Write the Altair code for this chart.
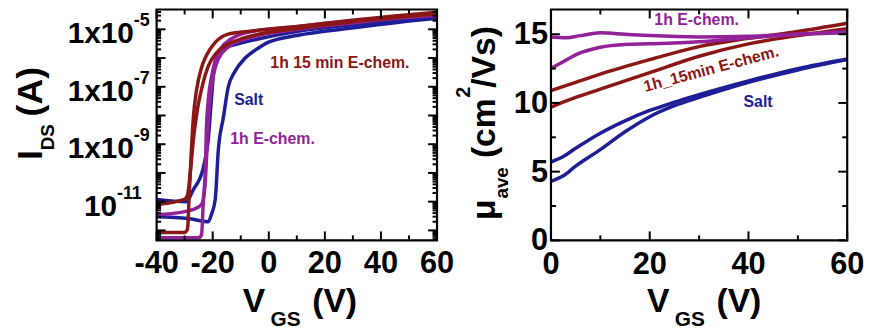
import altair as alt
import pandas as pd

# ---------------- data: left panel (I_DS vs V_GS, two sweeps per sample) ----------------
SALT_A_V = [-40, -28.7, -21.6, -20.5, -19.1, -18.0, -16.2, -14.5, -12.0, -8.4, -3.8, -0.3, 10.4, 28.1, 45.8, 60]
SALT_A_I = [3.0e-12, 2.6e-12, 2.0e-12, 3.5e-12, 1.2e-11, 6.2e-10, 8.5e-9, 9.3e-8, 3.5e-7, 1.0e-6, 2.2e-6,
            3.5e-6, 6.2e-6, 1.07e-5, 1.74e-5, 2.4e-5]
SALT_B_V = [-40, -29.4, -27, -23.3, -21.6, -20.5, -19.4, -17.3, -12.7, -3.8, 10.4, 28.1, 45.8, 60]
SALT_B_I = [1.2e-11, 1.0e-11, 2.5e-11, 1.6e-10, 1.4e-9, 3.3e-8, 5.2e-7, 2.0e-6, 2.8e-6, 4.6e-6, 8.5e-6,
            1.38e-5, 2.0e-5, 2.6e-5]
PURPLE_A_V = [-40, -30, -25.1, -24.0, -23.3, -22.6, -22.3, -21.6, -20.5, -19.1, -17.0, -13.4, -7.4, 10.4, 28.1, 45.8, 60]
PURPLE_A_I = [5.7e-13, 5.5e-13, 5.5e-13, 7e-13, 1.2e-11, 1.6e-10, 2.4e-9, 3.3e-8, 2.0e-7, 7.9e-7, 2.2e-6,
              4.6e-6, 7.9e-6, 1.26e-5, 1.9e-5, 2.6e-5, 3.3e-5]
PURPLE_B_V = [-40, -30, -25.1, -23.7, -22.6, -21.9, -21.2, -20.1, -18.0, -14.5, -7.4, 10.4, 28.1, 45.8, 60]
PURPLE_B_I = [3.5e-12, 4.5e-12, 6.5e-12, 9e-12, 5.8e-11, 1.4e-9, 2.2e-8, 1.6e-7, 9.3e-7, 2.4e-6, 4.9e-6,
              1.0e-5, 1.6e-5, 2.4e-5, 3.0e-5]
RED_A_V = [-40, -30.1, -29.0, -28.3, -27.6, -26.9, -25.8, -24.0, -22.3, -19.1, -14.5, -7.4, 10.4, 28.1, 45.8, 60]
RED_A_I = [8.5e-13, 8.5e-13, 1.1e-12, 2.6e-11, 6.2e-10, 8.5e-9, 7.2e-8, 4.6e-7, 1.2e-6, 3.5e-6, 6.8e-6,
           8.5e-6, 1.26e-5, 2.0e-5, 3.0e-5, 3.9e-5]
RED_B_V = [-40, -30.1, -29.0, -27.9, -26.9, -25.5, -23.7, -21.6, -18.7, -15.2, -9.1, 10.4, 28.1, 45.8, 60]
RED_B_I = [8e-12, 1.2e-11, 1.7e-11, 1.26e-10, 1.4e-9, 1.5e-8, 1.07e-7, 5.2e-7, 1.5e-6, 2.8e-6, 4.9e-6,
           1.07e-5, 1.74e-5, 2.6e-5, 3.5e-5]

# ---------------- data: right panel (mu_ave vs V_GS) ----------------
SALT_UP_V = [0, 2.5, 5, 10, 15, 20, 25, 30, 40, 50, 60]
SALT_UP_MU = [5.7, 6.1, 6.7, 7.8, 8.7, 9.45, 10.05, 10.6, 11.6, 12.5, 13.2]
SALT_DN_V = [0, 2.5, 5, 10, 15, 20, 25, 30, 40, 50, 60]
SALT_DN_MU = [4.3, 4.7, 5.4, 6.6, 7.9, 9.0, 9.8, 10.4, 11.5, 12.4, 13.15]
PURPLE_UP_V = [0, 3, 6, 10, 15, 20, 30, 40, 50, 60]
PURPLE_UP_MU = [14.8, 14.75, 14.9, 15.1, 15.0, 14.9, 14.8, 14.85, 15.0, 15.1]
PURPLE_DN_V = [0, 2, 5, 10, 15, 20, 30, 40, 50, 60]
PURPLE_DN_MU = [12.5, 12.9, 13.5, 14.05, 14.25, 14.3, 14.45, 14.75, 15.0, 15.2]
RED_UP_V = [0, 5, 10, 20, 30, 40, 50, 60]
RED_UP_MU = [10.9, 11.5, 12.1, 13.15, 14.1, 14.7, 15.2, 15.8]
RED_DN_V = [0, 5, 10, 20, 30, 40, 50, 60]
RED_DN_MU = [9.7, 10.4, 11.0, 12.2, 13.4, 14.3, 14.9, 15.4]

SERIES = ["Salt", "1h E-chem.", "1h 15 min E-chem."]
COLORS = ["#1e1e96", "#922299", "#8b1616"]

# tick labels
LX_TICKS = [-40, -20, 0, 20, 40, 60]
LX_MINOR = [-30, -10, 10, 30, 50]
LY_BASE = ["1x10", "1x10", "1x10"]
LY_EXP = ["-5", "-7", "-9"]
LY_VALS = [1e-5, 1e-7, 1e-9]
LY_BASE2 = ["10"]
LY_EXP2 = ["-11"]
LY_VALS2 = [1e-11]
RX_TICKS = [0, 20, 40, 60]
RX_MINOR = [10, 30, 50]
RY_TICKS = [0, 5, 10, 15]
RY_MINOR = [2.5, 7.5, 12.5]

FONT = "Liberation Sans, Arial, Helvetica, sans-serif"
BLACK = "#000000"


def frame(rows):
    return pd.DataFrame(rows, columns=["V", "val", "series", "curve"])


left_rows = []
for name, vs, ys, s in [("sa", SALT_A_V, SALT_A_I, 0), ("sb", SALT_B_V, SALT_B_I, 0),
                        ("pa", PURPLE_A_V, PURPLE_A_I, 1), ("pb", PURPLE_B_V, PURPLE_B_I, 1),
                        ("ra", RED_A_V, RED_A_I, 2), ("rb", RED_B_V, RED_B_I, 2)]:
    for v, y in zip(vs, ys):
        left_rows.append((v, y, SERIES[s], name))
left_df = frame(left_rows)

right_rows = []
for name, vs, ys, s in [("su", SALT_UP_V, SALT_UP_MU, 0), ("sd", SALT_DN_V, SALT_DN_MU, 0),
                        ("ru", RED_UP_V, RED_UP_MU, 2), ("rd", RED_DN_V, RED_DN_MU, 2),
                        ("pu", PURPLE_UP_V, PURPLE_UP_MU, 1), ("pd", PURPLE_DN_V, PURPLE_DN_MU, 1)]:
    for v, y in zip(vs, ys):
        right_rows.append((v, y, SERIES[s], name))
right_df = frame(right_rows)

color = alt.Color("series:N", scale=alt.Scale(domain=SERIES, range=COLORS), legend=None)

# ---- scales (pixel ranges place the two panels side by side)
LX0, LX1 = 150, 433
RX0, RX1 = 548, 847
Y0, Y1 = 233, 0
LOG_DOM = [4.5e-13, 4.9e-5]
MU_DOM = [0, 16.8]
xs_l = alt.Scale(domain=[-40, 60], range=[LX0, LX1], nice=False, zero=False)
ys_l = alt.Scale(type="log", domain=LOG_DOM, range=[Y0, Y1], nice=False)
xs_r = alt.Scale(domain=[0, 60], range=[RX0, RX1], nice=False, zero=False)
ys_r = alt.Scale(domain=MU_DOM, range=[Y0, Y1], nice=False, zero=False)


def text(t, x, y, size, col=BLACK, align="center", baseline="alphabetic", angle=0):
    return alt.Chart(pd.DataFrame({"t": [t]})).mark_text(
        font=FONT, fontSize=size, fontWeight="bold", color=col,
        align=align, baseline=baseline, angle=angle
    ).encode(x=alt.value(x), y=alt.value(y), text="t:N")


def xticks(vals, xs, length):
    d = pd.DataFrame({"v": vals})
    out = []
    for yv in (Y0 - length / 2, Y1 + length / 2):
        out.append(alt.Chart(d).mark_tick(color=BLACK, thickness=2, size=length, orient="vertical",
                                          opacity=1).encode(
            x=alt.X("v:Q", scale=xs, axis=None), y=alt.value(yv)))
    return out


def yticks(vals, ys, x0, x1, length):
    d = pd.DataFrame({"v": vals})
    out = []
    for xv in (x0 + length / 2, x1 - length / 2):
        out.append(alt.Chart(d).mark_tick(color=BLACK, thickness=2, size=length, orient="horizontal",
                                          opacity=1).encode(
            y=alt.Y("v:Q", scale=ys, axis=None), x=alt.value(xv)))
    return out


def box(xs, ys, xd, yd):
    return alt.Chart(pd.DataFrame({"a": [0]})).mark_rect(
        fill=None, stroke=BLACK, strokeWidth=2.2).encode(
        x=alt.X(datum=xd[0], scale=xs, axis=None), x2=alt.datum(xd[1]),
        y=alt.Y(datum=yd[0], scale=ys, axis=None), y2=alt.datum(yd[1]))


# ---------------- left panel ----------------
l_lines = alt.Chart(left_df).mark_line(strokeWidth=3.5, interpolate="monotone").encode(
    x=alt.X("V:Q", scale=xs_l, axis=None),
    y=alt.Y("val:Q", scale=ys_l, axis=None),
    color=color, detail="curve:N")

maj_dec = [10.0 ** e for e in range(-12, -4)]
min_dec = [m * 10.0 ** e for e in range(-13, -4) for m in range(2, 10)
           if LOG_DOM[0] <= m * 10.0 ** e <= LOG_DOM[1]]

lx_lab = alt.Chart(pd.DataFrame({"v": LX_TICKS, "t": [str(v) for v in LX_TICKS]})).mark_text(
    font=FONT, fontSize=31, fontWeight="bold", baseline="alphabetic", align="center", color=BLACK
).encode(x=alt.X("v:Q", scale=xs_l, axis=None), y=alt.value(266), text="t:N")

ly_df = pd.DataFrame({"v": LY_VALS, "b": LY_BASE, "e": LY_EXP})
ly_base = alt.Chart(ly_df).mark_text(font=FONT, fontSize=30, fontWeight="bold", align="right",
                                     baseline="alphabetic", dy=14, color=BLACK).encode(
    y=alt.Y("v:Q", scale=ys_l, axis=None), x=alt.value(127), text="b:N")
ly_exp = alt.Chart(ly_df).mark_text(font=FONT, fontSize=18, fontWeight="bold", align="left",
                                    baseline="alphabetic", dy=-3, color=BLACK).encode(
    y=alt.Y("v:Q", scale=ys_l, axis=None), x=alt.value(127), text="e:N")
ly_df2 = pd.DataFrame({"v": LY_VALS2, "b": LY_BASE2, "e": LY_EXP2})
ly_base2 = alt.Chart(ly_df2).mark_text(font=FONT, fontSize=30, fontWeight="bold", align="right",
                                       baseline="alphabetic", dy=14, color=BLACK).encode(
    y=alt.Y("v:Q", scale=ys_l, axis=None), x=alt.value(110), text="b:N")
ly_exp2 = alt.Chart(ly_df2).mark_text(font=FONT, fontSize=18, fontWeight="bold", align="left",
                                      baseline="alphabetic", dy=-3, color=BLACK).encode(
    y=alt.Y("v:Q", scale=ys_l, axis=None), x=alt.value(110), text="e:N")

layers = [l_lines, box(xs_l, ys_l, [-40, 60], LOG_DOM)]
layers += xticks(LX_TICKS, xs_l, 9)
layers += xticks(LX_MINOR, xs_l, 5)
layers += yticks(maj_dec, ys_l, LX0, LX1, 9)
layers += yticks(min_dec, ys_l, LX0, LX1, 4.5)
layers += [lx_lab, ly_base, ly_exp, ly_base2, ly_exp2]
layers += [
    text("1h 15 min E-chem.", 335, 59, 16, COLORS[2]),
    text("Salt", 243, 96, 16, COLORS[0]),
    text("1h E-chem.", 267, 136, 16, COLORS[1]),
    # y title  I_DS (A)
    text("I", 34, 147, 36, angle=270),
    text("DS", 46, 129, 19, angle=270),
    text("(A)", 34, 83, 36, angle=270),
    # x title  V_GS (V)
    text("V", 237, 305, 34, align="left"),
    text("GS", 265, 319, 21, align="left"),
    text("(V)", 307, 305, 34, align="left"),
]

# ---------------- right panel ----------------
r_lines = alt.Chart(right_df).mark_line(strokeWidth=3.5, interpolate="monotone").encode(
    x=alt.X("V:Q", scale=xs_r, axis=None),
    y=alt.Y("val:Q", scale=ys_r, axis=None),
    color=color, detail="curve:N")

rx_lab = alt.Chart(pd.DataFrame({"v": RX_TICKS, "t": [str(v) for v in RX_TICKS]})).mark_text(
    font=FONT, fontSize=31, fontWeight="bold", baseline="alphabetic", align="center", color=BLACK
).encode(x=alt.X("v:Q", scale=xs_r, axis=None), y=alt.value(267), text="t:N")
ry_lab = alt.Chart(pd.DataFrame({"v": RY_TICKS, "t": [str(v) for v in RY_TICKS]})).mark_text(
    font=FONT, fontSize=31, fontWeight="bold", baseline="alphabetic", align="right", dy=10, color=BLACK
).encode(y=alt.Y("v:Q", scale=ys_r, axis=None), x=alt.value(545), text="t:N")

layers += [r_lines, box(xs_r, ys_r, [0, 60], MU_DOM)]
layers += xticks(RX_TICKS, xs_r, 9)
layers += xticks(RX_MINOR, xs_r, 5)
layers += yticks(RY_TICKS, ys_r, RX0, RX1, 9)
layers += yticks(RY_MINOR, ys_r, RX0, RX1, 5)
layers += [rx_lab, ry_lab]
layers += [
    text("1h E-chem.", 695, 16, 16, COLORS[1]),
    text("1h_15min E-chem.", 711, 65, 16, COLORS[2], angle=345),
    text("Salt", 757, 98, 16, COLORS[0]),
    # y title  mu_ave (cm^2/Vs)
    text("\u03bc", 492, 202, 34, angle=270),
    text("ave", 505, 175, 19, angle=270),
    text("(cm", 492, 150, 34, align="left", angle=270),
    text("2", 466, 89, 20, align="left", angle=270),
    text("/Vs)", 492, 79, 34, align="left", angle=270),
    # x title
    text("V", 645, 305, 34, align="left"),
    text("GS", 673, 319, 21, align="left"),
    text("(V)", 715, 305, 34, align="left"),
]

chart = alt.layer(*layers).resolve_scale(
    x="independent", y="independent", color="independent"
).properties(
    width=871, height=325, padding=0, autosize=alt.AutoSizeParams(type="none")
).configure_view(stroke=None)

chart.save("out.html", embed_options={"renderer": "svg", "actions": False})
